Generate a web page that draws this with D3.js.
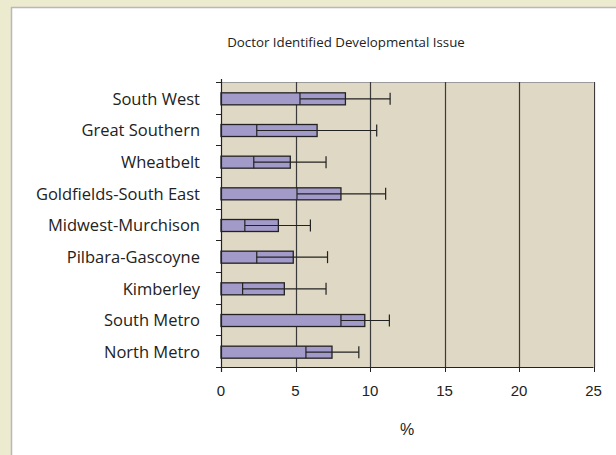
<!DOCTYPE html>
<html><head><meta charset="utf-8">
<script src="https://cdn.jsdelivr.net/npm/d3@7"></script>
<style>html,body{margin:0;padding:0;background:#ecebd0;}svg{display:block;}</style>
</head><body>
<svg id="c" width="616" height="455"></svg>
<script>
const categories = ["South West","Great Southern","Wheatbelt","Goldfields-South East","Midwest-Murchison","Pilbara-Gascoyne","Kimberley","South Metro","North Metro"];
const values = [8.35, 6.45, 4.65, 8.05, 3.85, 4.85, 4.25, 9.65, 7.45];
const lowerCI = [5.3, 2.4, 2.2, 5.1, 1.6, 2.4, 1.45, 8.05, 5.7];
const upperCI = [11.35, 10.45, 7.05, 11.05, 6.0, 7.15, 7.05, 11.3, 9.25];
const xTicks = [0,5,10,15,20,25];

const svg = d3.select("#c");
svg.append("rect").attr("x",0).attr("y",0).attr("width",616).attr("height",455).attr("fill","#ecebd0");
svg.append("rect").attr("x",11).attr("y",7).attr("width",605).attr("height",448).attr("fill","#fff");
svg.append("line").attr("x1",11.5).attr("x2",11.5).attr("y1",7).attr("y2",455).attr("stroke","#b8b8b8").attr("stroke-width",1.5);
svg.append("line").attr("x1",11).attr("x2",616).attr("y1",7.5).attr("y2",7.5).attr("stroke","#b8b8b8").attr("stroke-width",1.5);

const L=221, R=593.5, T=82, B=367;
const x = d3.scaleLinear().domain([0,25]).range([L,R]);
const y = d3.scaleBand().domain(categories).range([T,B]);

svg.append("rect").attr("x",L).attr("y",T).attr("width",R-L).attr("height",B-T).attr("fill","#dfd8c4");
svg.append("line").attr("x1",L).attr("x2",R).attr("y1",T+0.5).attr("y2",T+0.5).attr("stroke","#9a9a9a");

// gridlines
svg.append("g").selectAll("line").data(xTicks.slice(1)).join("line")
  .attr("x1",d=>Math.round(x(d))+0.5).attr("x2",d=>Math.round(x(d))+0.5)
  .attr("y1",T).attr("y2",B).attr("stroke","#3a3a3a").attr("stroke-width",1.2);

// bars
const bh = 12;
const g = svg.append("g");
categories.forEach((c,i)=>{
  const cy = y(c)+y.bandwidth()/2 + 1;
  g.append("rect").attr("x",x(0)).attr("y",cy-bh/2).attr("width",x(values[i])-x(0)).attr("height",bh)
    .attr("fill","#a29bc9").attr("stroke","#222").attr("stroke-width",1.3);
  g.append("line").attr("x1",x(lowerCI[i])).attr("x2",x(upperCI[i])).attr("y1",cy).attr("y2",cy).attr("stroke","#222").attr("stroke-width",1.2);
  [lowerCI[i],upperCI[i]].forEach(v=>{
    g.append("line").attr("x1",x(v)).attr("x2",x(v)).attr("y1",cy-bh/2).attr("y2",cy+bh/2).attr("stroke","#222").attr("stroke-width",1.2);
  });
});

// y axis
svg.append("line").attr("x1",L+0.5).attr("x2",L+0.5).attr("y1",T-3).attr("y2",B+5).attr("stroke","#222").attr("stroke-width",1.2);
const bounds = categories.map(c=>y(c)).concat([B]);
svg.append("g").selectAll("line").data(bounds).join("line")
  .attr("x1",L-5).attr("x2",L).attr("y1",d=>Math.round(d)+0.5).attr("y2",d=>Math.round(d)+0.5).attr("stroke","#222");
svg.append("g").selectAll("text").data(categories).join("text")
  .attr("x",200).attr("y",d=>y(d)+y.bandwidth()/2+1).attr("dy","0.35em").attr("text-anchor","end")
  .attr("font-family","'Open Sans', 'Noto Sans', sans-serif").attr("font-size",16.5).attr("fill","#222").text(d=>d);

// x axis
svg.append("line").attr("x1",L).attr("x2",R).attr("y1",B+0.5).attr("y2",B+0.5).attr("stroke","#222").attr("stroke-width",1.2);
svg.append("g").selectAll("line").data(xTicks).join("line")
  .attr("x1",d=>Math.round(x(d))+0.5).attr("x2",d=>Math.round(x(d))+0.5).attr("y1",B).attr("y2",B+5).attr("stroke","#222");
svg.append("g").selectAll("text").data(xTicks).join("text")
  .attr("x",d=>x(d)).attr("y",396).attr("text-anchor","middle")
  .attr("font-family","'Liberation Sans', Arial, sans-serif").attr("font-size",15).attr("fill","#222").text(d=>d);
svg.append("text").attr("x",407).attr("y",435).attr("text-anchor","middle")
  .attr("font-family","'Liberation Sans', Arial, sans-serif").attr("font-size",16).attr("fill","#222").text("%");

svg.append("text").attr("x",346).attr("y",47).attr("text-anchor","middle")
  .attr("font-family","'Open Sans', 'Noto Sans', sans-serif").attr("font-size",13.3).attr("fill","#222").text("Doctor Identified Developmental Issue");
</script>
</body></html>
